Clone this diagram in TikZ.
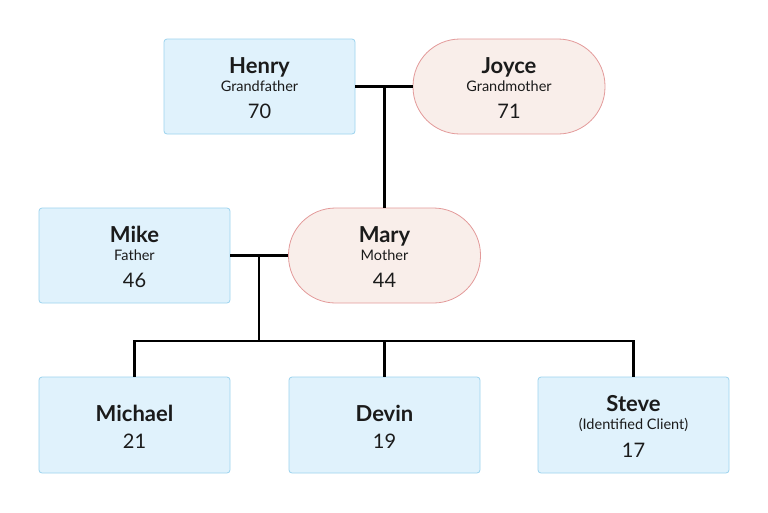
\documentclass[tikz,border=0pt]{standalone}
\usepackage{fontspec}
\setmainfont{Lato}
\definecolor{boyfill}{HTML}{E0F2FC}
\definecolor{boyline}{HTML}{9CD3EE}
\definecolor{girlfill}{HTML}{F9EEEA}
\definecolor{girlline}{HTML}{E39A9A}
\definecolor{ink}{HTML}{1B1B1B}
\renewcommand{\arraystretch}{0}
% one line of a box: height, depth, text
\newcommand{\textrow}[3]{\rule[-#2]{0pt}{\dimexpr#1+#2\relax}\smash{#3}}
\newcommand{\member}[3]{\begin{tabular}{@{}c@{}}
  \textrow{20pt}{4pt}{\fontsize{22}{22}\selectfont\bfseries #1}\\
  \textrow{14pt}{3pt}{\fontsize{14.5}{15}\selectfont #2}\\
  \textrow{24.5pt}{1.5pt}{\fontsize{20}{20}\selectfont #3}
\end{tabular}}
\newcommand{\child}[2]{\begin{tabular}{@{}c@{}}
  \textrow{22pt}{4pt}{\fontsize{22}{22}\selectfont\bfseries #1}\\
  \textrow{22.6pt}{2pt}{\fontsize{20}{20}\selectfont #2}
\end{tabular}}
\begin{document}
\begin{tikzpicture}[x=1pt,y=-1pt]
  \useasboundingbox (0,0) rectangle (768,512);

  \tikzset{
    male/.style={draw=boyline, fill=boyfill, rounded corners=3pt, line width=0.8pt,
      minimum width=191pt, minimum height=95pt, inner sep=0pt, text=ink},
    female/.style={draw=girlline, fill=girlfill, rounded corners=47pt, line width=0.8pt,
      minimum width=192pt, minimum height=95pt, inner sep=0pt, text=ink},
    link/.style={draw=black, line width=2.8pt}
  }

  \begin{scope}
    \node[male]   (henry)   at (259.5,86.5)  {\member{Henry}{Grandfather}{70}};
    \node[female] (joyce)   at (509,86.5)    {\member{Joyce}{Grandmother}{71}};
    \node[male]   (mike)    at (134.5,255.5) {\member{Mike}{Father}{46}};
    \node[female] (mary)    at (384.5,255.5) {\member{Mary}{Mother}{44}};
    \node[male, minimum height=96pt] (michael) at (134.5,425) {\child{Michael}{21}};
    \node[male, minimum height=96pt] (devin)   at (384.5,425) {\child{Devin}{19}};
    \node[male, minimum height=96pt] (steve)   at (633.5,425) {\member{Steve}{(Identified Client)}{17}};
  \end{scope}

  \coordinate (top) at (384.5,86.5);
  \coordinate (mid) at (259,255.5);
  \coordinate (bar) at (259,341);

  \begin{scope}[every path/.style={link}]
    \path (henry.east) edge (joyce.west);
    \path (top) edge (mary.north);
    \path (mike.east) edge (mary.west);
    \path (mid) edge (bar);
    \draw (michael.north) |- (bar) -| (steve.north);
    \draw (devin.north) -- (devin.north |- bar);
  \end{scope}

\end{tikzpicture}
\end{document}
